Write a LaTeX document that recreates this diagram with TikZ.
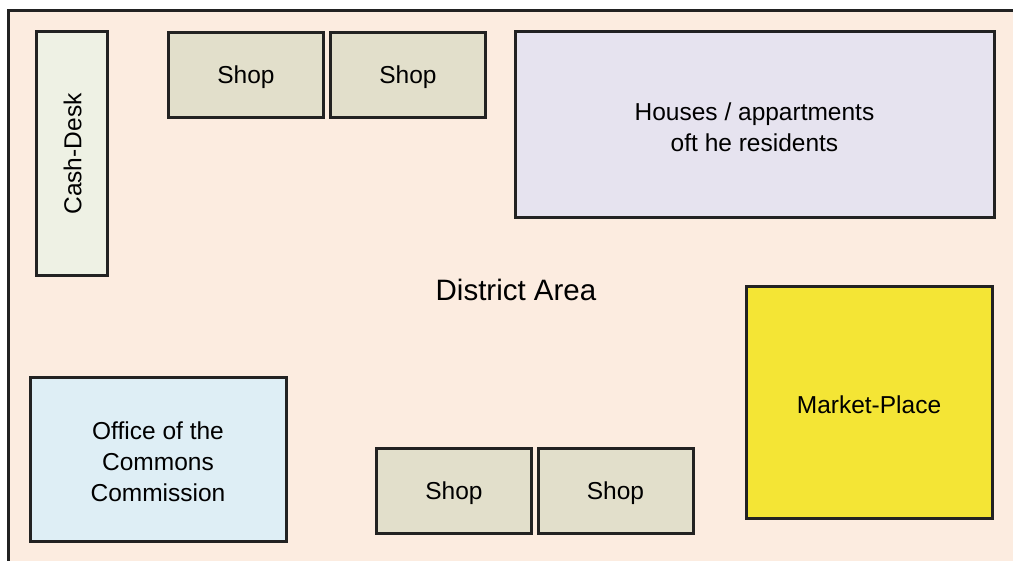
\documentclass[tikz,border=0pt]{standalone}
\usepackage{fontspec}
\setmainfont{Liberation Sans}
\definecolor{areafill}{HTML}{FCECE0}
\definecolor{deskfill}{HTML}{EEF1E4}
\definecolor{shopfill}{HTML}{E2DFCB}
\definecolor{housefill}{HTML}{E6E3EF}
\definecolor{marketfill}{HTML}{F4E535}
\definecolor{officefill}{HTML}{DEEEF5}
\definecolor{edge}{HTML}{222222}
% set a label line slightly below its nominal baseline, keeping its box size
\newcommand\lowline[1]{\raisebox{-2.5pt}[\height][\depth]{#1}}
\tikzset{
  labelfont/.style={font=\fontsize{24.5}{30.8}\selectfont, text=black},
  block/.style={draw=edge, line width=3pt, inner sep=0pt, align=center, labelfont},
  shopbox/.style={block, fill=shopfill, minimum width=155pt, minimum height=85pt},
}
\begin{document}
\begin{tikzpicture}[x=1pt,y=-1pt]
  \useasboundingbox (0,0) rectangle (1013,561);
  \fill[white] (0,0) rectangle (1013,561);
  % district ground, running past the right and bottom edges
  \begin{scope}
    \clip (0,0) rectangle (1013,561);
    \filldraw[fill=areafill, draw=edge, line width=3pt] (8,10.5) rectangle (1040,590);
  \end{scope}

  \node[font=\fontsize{29.5}{34}\selectfont, text depth=0pt] (area) at (516,290) {District Area};

  \node[block, fill=deskfill, minimum width=71pt, minimum height=244pt] (desk) at (71.5,154) {};
  \node[labelfont, rotate=90, inner sep=0pt, text depth=0pt] (desktext) at ([xshift=1pt]desk.center) {Cash-Desk};

  \node[shopbox] (shop1) at (246,75) {\lowline{Shop}};
  \node[shopbox] (shop2) at (408,75) {\lowline{Shop}};
  \node[shopbox] (shop3) at (454,491) {\lowline{Shop}};
  \node[shopbox] (shop4) at (615.5,491) {\lowline{Shop}};

  \node[block, fill=housefill, minimum width=479pt, minimum height=186pt] (houses) at (754.5,125)
    {\lowline{Houses / appartments}\\\lowline{oft he residents}};

  \node[block, fill=marketfill, minimum width=246pt, minimum height=231pt] (market) at (869,402.5)
    {\lowline{Market-Place}};

  \node[block, fill=officefill, minimum width=256pt, minimum height=163pt] (office) at (158,459.5)
    {\lowline{Office of the}\\\lowline{Commons}\\\lowline{Commission}};
\end{tikzpicture}
\end{document}
